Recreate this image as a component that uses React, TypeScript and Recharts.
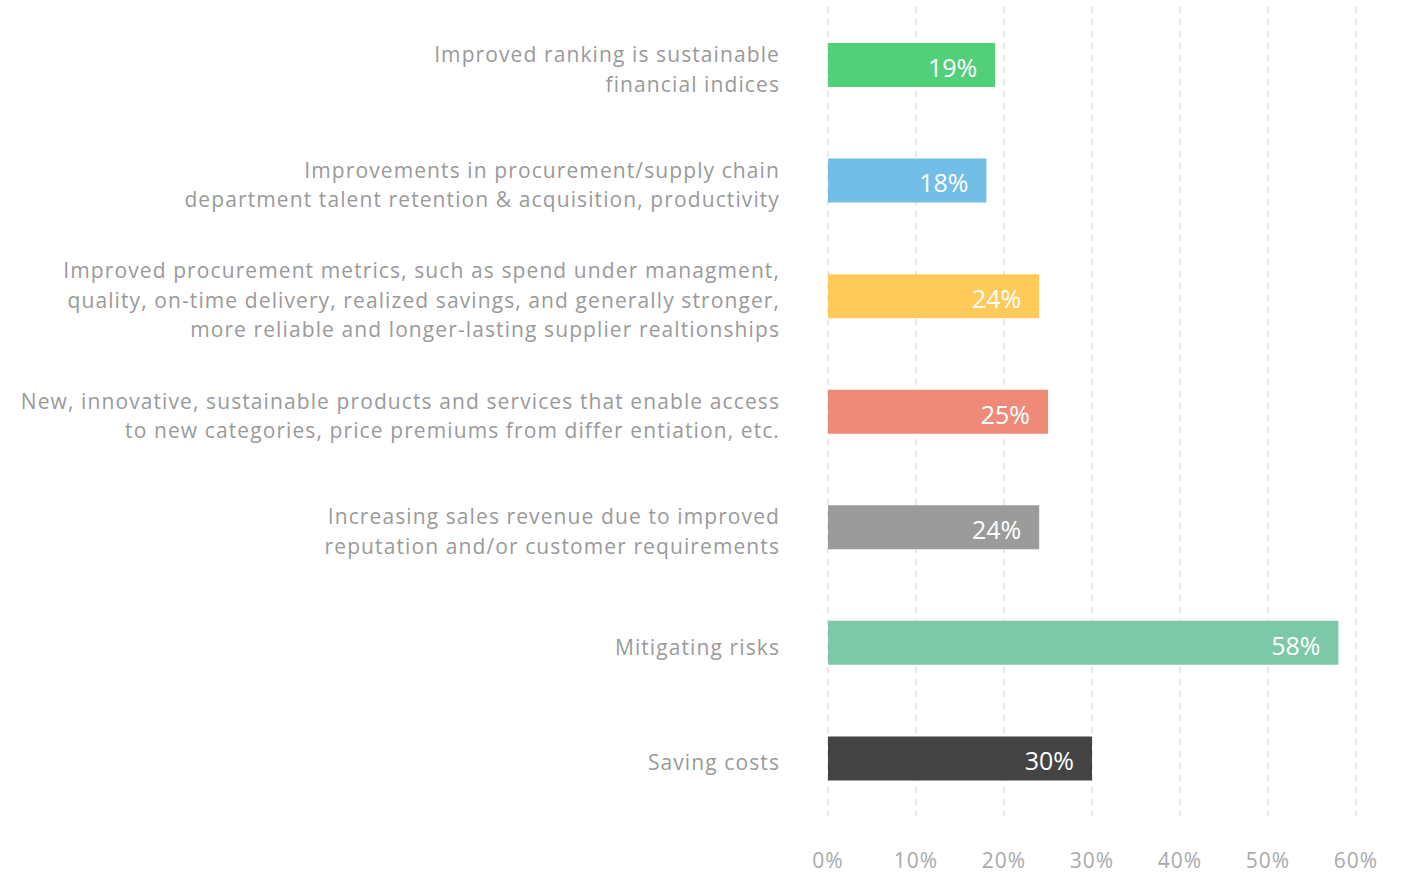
import { BarChart, Bar, XAxis, YAxis, CartesianGrid, Cell, LabelList } from 'recharts'

const categories = [
  'Improved ranking is sustainable\nfinancial indices',
  'Improvements in procurement/supply chain\ndepartment talent retention & acquisition, productivity',
  'Improved procurement metrics, such as spend under managment,\nquality, on-time delivery, realized savings, and generally stronger,\nmore reliable and longer-lasting supplier realtionships',
  'New, innovative, sustainable products and services that enable access\nto new categories, price premiums from differ entiation, etc.',
  'Increasing sales revenue due to improved\nreputation and/or customer requirements',
  'Mitigating risks',
  'Saving costs',
]
const shares = [19, 18, 24, 25, 24, 58, 30]
const barColors = ['#52CF79', '#72BEE6', '#FECA5A', '#EE8A78', '#9B9B9B', '#7EC8AA', '#444444']
const xTicks = [0, 10, 20, 30, 40, 50, 60]

const FONT = '"Open Sans", Lato, sans-serif'

const data = categories.map((name, i) => ({ name, value: shares[i], color: barColors[i] }))

function CategoryTick({ x, y, payload }: any) {
  const lines: string[] = String(payload.value).split('\n')
  const lh = 29.5
  const start = -((lines.length - 1) * lh) / 2 + 4
  return (
    <text
      x={x}
      y={y}
      textAnchor="end"
      fill="#9a9a9a"
      fontSize={21}
      fontFamily={FONT}
      letterSpacing={1.1}
    >
      {lines.map((l, i) => (
        <tspan key={i} x={x} y={y + start + i * lh} dominantBaseline="central">
          {l}
        </tspan>
      ))}
    </text>
  )
}

export default function App() {
  return (
    <div style={{ position: 'absolute', left: 0, top: 0, width: 1405, height: 876, background: '#fff' }}>
      <BarChart
        width={1405}
        height={876}
        data={data}
        layout="vertical"
        margin={{ top: 7, right: 49, bottom: 0, left: 0 }}
      >
        <CartesianGrid horizontal={false} stroke="#cfcfcf" strokeDasharray="6 6" />
        <XAxis
          type="number"
          domain={[0, 60]}
          ticks={xTicks}
          tickFormatter={(v: number) => `${v}%`}
          axisLine={false}
          tickLine={false}
          tickSize={0}
          tickMargin={37}
          height={60}
          tick={{ fill: '#aaaaaa', fontSize: 21, fontFamily: FONT, letterSpacing: 1 }}
        />
        <YAxis
          type="category"
          dataKey="name"
          width={828}
          axisLine={false}
          tickLine={false}
          tickSize={0}
          tickMargin={48}
          tick={<CategoryTick />}
          interval={0}
        />
        <Bar dataKey="value" barSize={44} isAnimationActive={false}>
          {data.map((d, i) => (
            <Cell key={i} fill={d.color} />
          ))}
          <LabelList
            dataKey="value"
            position="insideRight"
            offset={18}
            dy={3}
            formatter={(v: any) => `${v}%`}
            fill="#ffffff"
            fontSize={25}
            fontFamily={FONT}
          />
        </Bar>
      </BarChart>
    </div>
  )
}
